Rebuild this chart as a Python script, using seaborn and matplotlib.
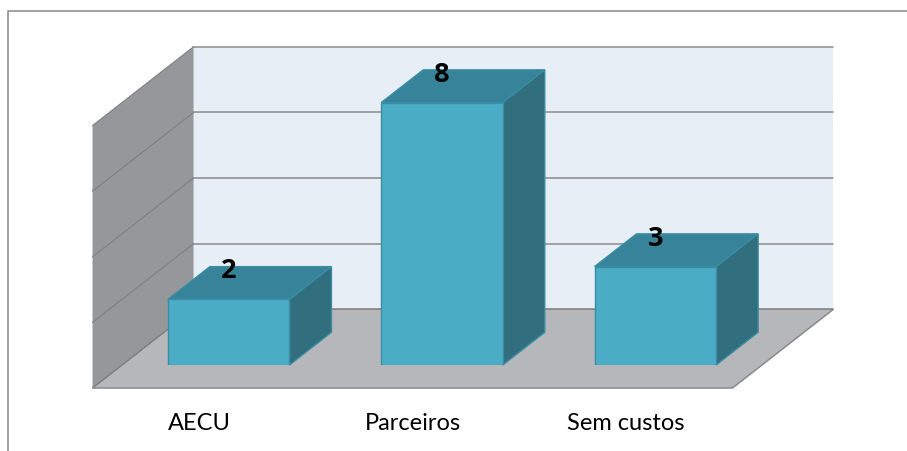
import matplotlib
matplotlib.use("Agg")
import matplotlib.pyplot as plt
from matplotlib.patches import Polygon
from matplotlib.lines import Line2D
from matplotlib.transforms import ScaledTranslation
import pandas as pd
import seaborn as sns

# data
categories = ["AECU", "Parceiros", "Sem custos"]
values = [2, 8, 3]
y_ticks = [0, 2, 4, 6, 8]

# colours (Excel 3D column look)
FRONT = "#4BACC6"
TOP = "#37849A"
SIDE = "#316E7E"
EDGE = "#3A8DA4"
WALL_BACK = "#E8EEF5"
WALL_LEFT = "#96979A"
FLOOR = "#B5B7BA"
GRID = "#8A8A8A"

sns.set_theme(style="white")
plt.rcParams["font.family"] = ["Lato", "DejaVu Sans"]

W, H, DPI = 907, 452, 100
fig = plt.figure(figsize=(W / DPI, H / DPI), dpi=DPI)

# axes = plane of the bar front faces (pixels of the picture)
left_px, right_px, bottom_px, top_px = 122, 762, 366, 103.6
ax = fig.add_axes([left_px / W, 1 - bottom_px / H,
                   (right_px - left_px) / W, (bottom_px - top_px) / H])

df = pd.DataFrame({"cat": categories, "val": values})
sns.barplot(data=df, x="cat", y="val", color=FRONT, width=0.57, saturation=1,
            edgecolor=EDGE, linewidth=1, ax=ax)
ax.set_xlim(-0.5, 2.5)
ax.set_ylim(y_ticks[0], y_ticks[-1])

# pixel -> data units
ux = (right_px - left_px) / (ax.get_xlim()[1] - ax.get_xlim()[0])
uy = (bottom_px - top_px) / (ax.get_ylim()[1] - ax.get_ylim()[0])
SLOPE = 0.78  # depth direction: up 0.78 px per px to the right


def off(x, y, k):
    """shift point by k pixels along the depth axis"""
    return (x + k / ux, y + k * SLOPE / uy)


K_FRONT, K_BAR, K_BACK = -29.5, 42, 71.5
x0, x1 = ax.get_xlim()
y0, y1 = ax.get_ylim()

walls = dict(clip_on=False, linewidth=0)
# back wall
ax.add_patch(Polygon([off(x0, y0, K_BACK), off(x1, y0, K_BACK),
                      off(x1, y1, K_BACK), off(x0, y1, K_BACK)],
                     facecolor=WALL_BACK, zorder=0.5, **walls))
# left wall
ax.add_patch(Polygon([off(x0, y0, K_FRONT), off(x0, y1, K_FRONT),
                      off(x0, y1, K_BACK), off(x0, y0, K_BACK)],
                     facecolor=WALL_LEFT, zorder=0.5, **walls))
# floor
ax.add_patch(Polygon([off(x0, y0, K_FRONT), off(x1, y0, K_FRONT),
                      off(x1, y0, K_BACK), off(x0, y0, K_BACK)],
                     facecolor=FLOOR, edgecolor=GRID, linewidth=1.1,
                     clip_on=False, zorder=0.6))

# gridlines on back and left wall
for t in y_ticks:
    bx = [off(x0, t, K_BACK)[0], off(x1, t, K_BACK)[0]]
    by = [off(x0, t, K_BACK)[1]] * 2
    ax.plot(bx, by, color=GRID, lw=1.1, clip_on=False, zorder=0.7)
    lx = [off(x0, t, K_FRONT)[0], off(x0, t, K_BACK)[0]]
    ly = [off(x0, t, K_FRONT)[1], off(x0, t, K_BACK)[1]]
    ax.plot(lx, ly, color="#7E7F82", lw=0.8, clip_on=False, zorder=0.7)

# 3D faces of the bars
for p, v in zip(ax.patches[:len(values)], values):
    bx0 = p.get_x()
    bx1 = bx0 + p.get_width()
    h = p.get_height()
    top = [(bx0, h), (bx1, h), off(bx1, h, K_BAR), off(bx0, h, K_BAR)]
    side = [(bx1, 0), (bx1, h), off(bx1, h, K_BAR), off(bx1, 0, K_BAR)]
    ax.add_patch(Polygon(top, facecolor=TOP, edgecolor=EDGE, lw=1,
                         clip_on=False, zorder=2))
    ax.add_patch(Polygon(side, facecolor=SIDE, edgecolor=EDGE, lw=1,
                         clip_on=False, zorder=2))
    p.set_zorder(3)
    ax.text(bx0 + p.get_width() / 2, h + 29 / uy, str(v), ha="center",
            va="center", fontsize=19.5, fontweight="bold", color="black",
            family=["Open Sans", "DejaVu Sans"], zorder=5, clip_on=False)

# axes cosmetics
for s in ax.spines.values():
    s.set_visible(False)
ax.patch.set_visible(False)
ax.set_yticks([])
ax.set_xlabel("")
ax.set_ylabel("")
ax.tick_params(axis="x", length=0, pad=34, labelsize=17, colors="black")
shift = ScaledTranslation(K_FRONT / DPI, 0, fig.dpi_scale_trans)
for lab in ax.get_xticklabels():
    lab.set_transform(lab.get_transform() + shift)

# chart area border (left and top edges visible)
fig.add_artist(Line2D([7.5 / W, 7.5 / W, 1], [0, 1 - 12 / H, 1 - 12 / H],
                      transform=fig.transFigure, color="#868686", lw=1.1))

fig.savefig("out.png", dpi=DPI)
